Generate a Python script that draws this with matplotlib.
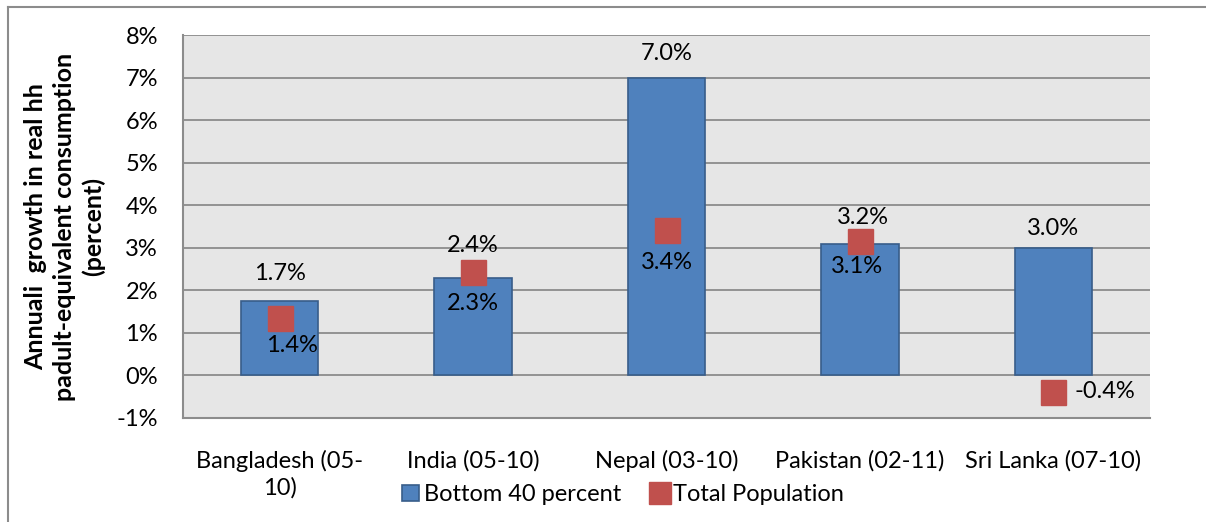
import numpy as np
import matplotlib.pyplot as plt
from matplotlib.lines import Line2D

plt.rcParams['font.family'] = ['Lato', 'DejaVu Sans']

countries = ["Bangladesh (05-\n10)", "India (05-10)", "Nepal (03-10)",
             "Pakistan (02-11)", "Sri Lanka (07-10)"]
bottom40 = [1.74, 2.28, 7.0, 3.08, 2.99]
total_pop = [1.36, 2.44, 3.41, 3.16, -0.38]
yticks = [-1, 0, 1, 2, 3, 4, 5, 6, 7, 8]

# label offsets in points from the value (layout only)
bar_off = [(0, 20), (0, -18), (0, 17), (-2, -16), (0, 14)]
pop_off = [(9, -20), (0, 19), (0, -23), (2, 17), (37, 0)]

FS = 17

fig = plt.figure(figsize=(12.06, 5.22), dpi=100)
ax = fig.add_axes([183 / 1206, 1 - 418 / 522, (1150 - 183) / 1206, (418 - 35) / 522])

# outer frame (only top and left are visible)
fig.add_artist(Line2D([8 / 1206, 1], [1 - 7 / 522, 1 - 7 / 522], color='#8c8c8c', lw=1.5))
fig.add_artist(Line2D([8 / 1206, 8 / 1206], [0, 1 - 7 / 522], color='#8c8c8c', lw=1.5))

x = np.arange(len(countries))
ax.set_facecolor('#e6e6e6')
ax.set_axisbelow(True)
ax.yaxis.grid(color='#8c8c8c', lw=1.3)

bars = ax.bar(x, bottom40, width=0.4, color='#4f81bd', edgecolor='#385d8a', lw=1.2,
              label='Bottom 40 percent', zorder=2)
pts, = ax.plot(x, total_pop, 's', color='#c0504d', markersize=18,
               markeredgecolor='#c0504d', label='Total Population', zorder=3)

for i, v in enumerate(bottom40):
    ax.annotate("%.1f%%" % v, (x[i], v), xytext=bar_off[i], textcoords='offset points',
                ha='center', va='center', fontsize=FS, zorder=5)

for i, v in enumerate(total_pop):
    ax.annotate("%.1f%%" % v, (x[i], v), xytext=pop_off[i], textcoords='offset points',
                ha='center', va='center', fontsize=FS, zorder=5)

ax.set_xlim(-0.5, len(countries) - 0.5)
ax.set_ylim(-1, 8)
ax.set_yticks(yticks)
ax.set_yticklabels(["%d%%" % t for t in yticks], fontsize=FS)
ax.set_xticks(x)
ax.set_xticklabels(countries, fontsize=FS, linespacing=1.3)
ax.tick_params(axis='y', length=0, pad=18)
ax.tick_params(axis='x', length=0, pad=23)

for s in ['top', 'right']:
    ax.spines[s].set_visible(False)
for s in ['left', 'bottom']:
    ax.spines[s].set_color('#8c8c8c')
    ax.spines[s].set_linewidth(1.5)

ax.set_ylabel("Annuali  growth in real hh\npadult-equivalent consumption\n(percent)",
              fontsize=FS + 1, fontweight='bold', labelpad=8, linespacing=1.3)

ax.legend([bars, pts], ['Bottom 40 percent', 'Total Population'],
          loc='center', bbox_to_anchor=(0.455, -0.2), ncol=2, frameon=False,
          fontsize=FS, handlelength=0.7, handleheight=0.7, handletextpad=0.2,
          columnspacing=1.3, markerscale=0.85, borderpad=0)

fig.savefig("out.png", dpi=100)
